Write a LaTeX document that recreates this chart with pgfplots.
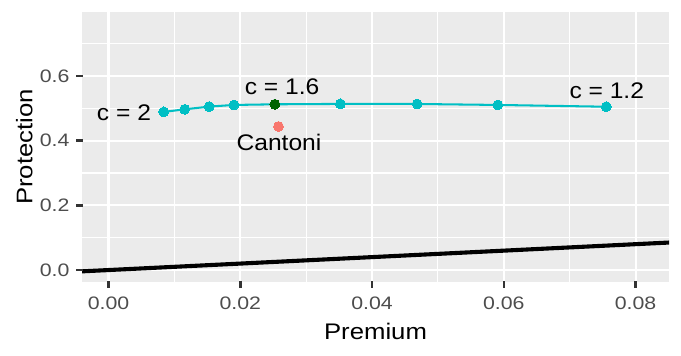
\documentclass[border=0pt]{standalone}
\usepackage{pgfplots}
\pgfplotsset{compat=1.18}
\usepackage{fontspec}
\setmainfont{Liberation Sans}
\newfontfamily\tickfont{Liberation Sans}[FakeStretch=1.18]
\newfontfamily\titlefont{Liberation Sans}[FakeStretch=1.14]
\newfontfamily\geomfont{Liberation Sans}[FakeStretch=1.09]

\definecolor{panelgrey}{HTML}{EBEBEB}
\definecolor{tickgrey}{HTML}{333333}
\definecolor{labgrey}{HTML}{4D4D4D}
\definecolor{ggcyan}{HTML}{00BFC4}
\definecolor{ggred}{HTML}{F8766D}
\definecolor{ggdark}{HTML}{006400}

\begin{document}
\begin{tikzpicture}
\begin{axis}[
  name=ax,
  scale only axis,
  width=286.3pt, height=131.4pt,
  xmin=-0.00402, xmax=0.08507,
  ymin=-0.036, ymax=0.797,
  axis background/.style={fill=panelgrey},
  axis line style={draw=none},
  xtick pos=bottom, ytick pos=left,
  tick align=outside,
  major tick length=2.6pt,
  minor tick length=0pt,
  xtick={0,0.02,0.04,0.06,0.08},
  minor xtick={0.01,0.03,0.05,0.07},
  ytick={0,0.2,0.4,0.6},
  minor ytick={0.1,0.3,0.5,0.7},
  scaled x ticks=false, scaled y ticks=false,
  grid=both,
  major grid style={white, line width=1.07pt},
  minor grid style={white, line width=0.53pt},
  /pgf/number format/assume math mode=true,
  xticklabel style={/pgf/number format/.cd, fixed, fixed zerofill, precision=2, /tikz/.cd,
    font=\tickfont\fontsize{8.8}{10}\selectfont, text=labgrey, yshift=-1.2pt},
  yticklabel style={/pgf/number format/.cd, fixed, fixed zerofill, precision=1, /tikz/.cd,
    font=\tickfont\fontsize{8.8}{10}\selectfont, text=labgrey},
  xlabel={Premium}, ylabel={Protection},
  label style={font=\titlefont\fontsize{11}{13}\selectfont},
  xlabel style={at={(axis description cs:0.5,-0.1834)}, anchor=center},
  ylabel style={at={(axis description cs:-0.0985,0.5)}, anchor=center},
]
% y = x reference line
\addplot[black, line width=2pt] coordinates {(-0.01,-0.01) (0.1,0.1)};
% c from 2 down to 1.2
\addplot[ggcyan, line width=1pt, mark=*, mark size=2.4pt,
  mark options={fill=ggcyan, draw=ggcyan, line width=0pt}] coordinates {
  (0.00838,0.4890) (0.01157,0.4970) (0.01528,0.5054) (0.01904,0.5105)
  (0.02525,0.5125) (0.03520,0.5137) (0.04684,0.5135) (0.05909,0.5105)
  (0.07554,0.5050)
};
\addplot[only marks, mark=*, mark size=2.4pt,
  mark options={fill=ggdark, draw=ggdark, line width=0pt}] coordinates {(0.02525,0.5125)};
\addplot[only marks, mark=*, mark size=2.4pt,
  mark options={fill=ggred, draw=ggred, line width=0pt}] coordinates {(0.0258,0.444)};
\node[font=\geomfont\fontsize{11}{13}\selectfont] at (axis cs:0.00235,0.486) {c = 2};
\node[font=\geomfont\fontsize{11}{13}\selectfont] at (axis cs:0.02634,0.5665) {c = 1.6};
\node[font=\geomfont\fontsize{11}{13}\selectfont] at (axis cs:0.07562,0.5529) {c = 1.2};
\node[font=\geomfont\fontsize{11}{13}\selectfont] at (axis cs:0.02588,0.3947) {Cantoni};
% tick positions, drawn after the axis
\coordinate (xt0) at (axis cs:0,-0.036);
\coordinate (xt1) at (axis cs:0.02,-0.036);
\coordinate (xt2) at (axis cs:0.04,-0.036);
\coordinate (xt3) at (axis cs:0.06,-0.036);
\coordinate (xt4) at (axis cs:0.08,-0.036);
\coordinate (yt0) at (axis cs:-0.00402,0);
\coordinate (yt1) at (axis cs:-0.00402,0.2);
\coordinate (yt2) at (axis cs:-0.00402,0.4);
\coordinate (yt3) at (axis cs:-0.00402,0.6);
\end{axis}
\pgfresetboundingbox
\path ([xshift=-40pt,yshift=-35.8pt]ax.south west) rectangle ([xshift=5.85pt,yshift=6pt]ax.north east);
\foreach \i in {0,...,4}
  \draw[draw=tickgrey, line width=1.2pt] ([yshift=0.3pt]xt\i) -- ++(0,-3.2pt);
\foreach \i in {0,...,3}
  \draw[draw=tickgrey, line width=1.2pt] ([xshift=0.3pt]yt\i) -- ++(-3.2pt,0);
\end{tikzpicture}
\end{document}
